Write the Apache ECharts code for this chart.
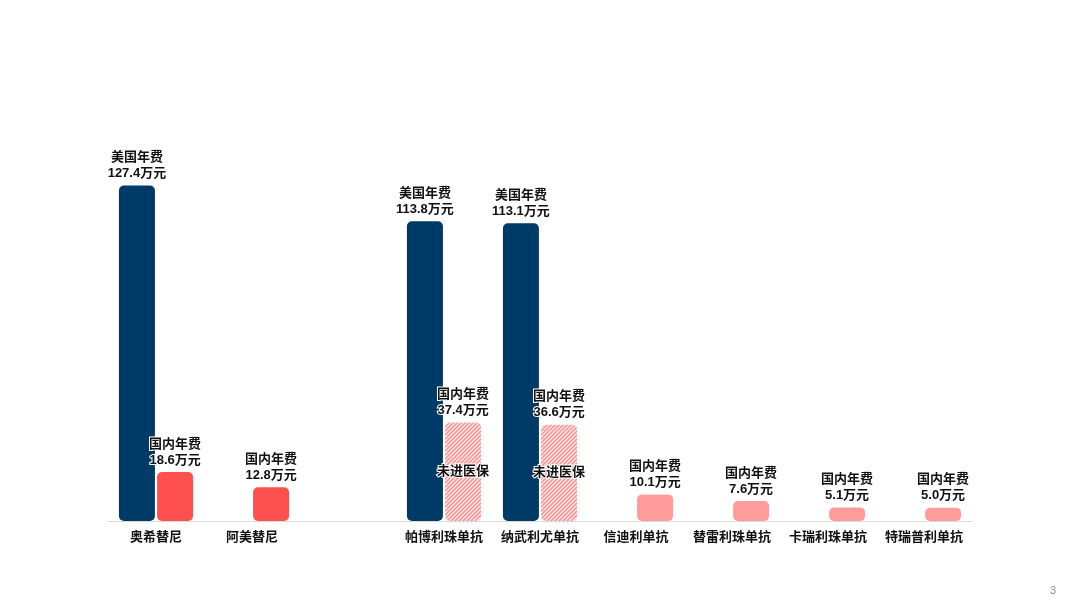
<!DOCTYPE html>
<html><head><meta charset="utf-8">
<script src="https://cdn.jsdelivr.net/npm/echarts@6/dist/echarts.min.js"></script>
<style>html,body{margin:0;padding:0;background:#fff;}#c{width:1080px;height:608px;}</style>
</head><body><div id="c"></div>
<script>
const categories = ['奥希替尼','阿美替尼','','帕博利珠单抗','纳武利尤单抗','信迪利单抗','替雷利珠单抗','卡瑞利珠单抗','特瑞普利单抗'];
const usFee = [127.4, null, null, 113.8, 113.1, null, null, null, null];
const cnFee = [18.6, 12.8, null, 37.4, 36.6, 10.1, 7.6, 5.1, 5.0];
// 0 = red (targeted), 1 = hatched (not in insurance), 2 = pink (PD-1 in insurance)
const cnKind = [0, 0, null, 1, 1, 2, 2, 2, 2];

const FONT = '"Liberation Sans", "Noto Sans CJK SC", sans-serif';
const NAVY = '#003A66', RED = '#FF5050', PINK = '#FF9B9B';

// hatch pattern
const pc = document.createElement('canvas');
pc.width = 4; pc.height = 4;
const g = pc.getContext('2d');
g.fillStyle = '#FFF4F4'; g.fillRect(0,0,4,4);
g.strokeStyle = '#FF9494'; g.lineWidth = 1.6;
g.beginPath();
g.moveTo(0,4); g.lineTo(4,0);
g.moveTo(-1,1); g.lineTo(1,-1);
g.moveTo(3,5); g.lineTo(5,3);
g.stroke();
const hatch = {image: pc, repeat: 'repeat'};

const labelBase = {fontFamily: FONT, fontWeight: 'bold', fontSize: 13, color: '#111', lineHeight: 16, textBorderColor: '#fff', textBorderWidth: 2};

const cnData = cnFee.map((v, i) => {
  if (v == null) return null;
  const k = cnKind[i];
  const item = {value: v, itemStyle: {color: k === 0 ? RED : (k === 1 ? hatch : PINK)}};
  if (k === 1) {
    item.label = Object.assign({}, labelBase, {show: true, position: 'inside', formatter: '未进医保'});
  }
  return item;
});
const cnTopData = cnFee.map((v, i) => cnKind[i] === 1 ? 0 : null);

const chart = echarts.init(document.getElementById('c'), null, {renderer: 'canvas'});
chart.setOption({
  animation: false,
  backgroundColor: '#fff',
  grid: {left: 108, right: 108, top: 105, bottom: 87},
  xAxis: {
    type: 'category', data: categories,
    axisLine: {lineStyle: {color: '#D9D9D9', width: 1}},
    axisTick: {show: false},
    axisLabel: {fontFamily: FONT, fontWeight: 'bold', fontSize: 13, color: '#111', margin: 10, interval: 0}
  },
  yAxis: {type: 'value', min: 0, max: 158, show: false, splitLine: {show: false}},
  series: [
    {
      name: '美国年费', type: 'bar', data: usFee, barWidth: 36, barGap: '6%',
      itemStyle: {color: NAVY, borderRadius: 5},
      label: Object.assign({}, labelBase, {show: true, position: 'top', distance: 4,
        formatter: p => '美国年费\n' + p.value.toFixed(1) + '万元'})
    },
    {
      name: '国内年费', type: 'bar', stack: 'cn', data: cnData, barWidth: 36, barGap: '6%',
      itemStyle: {borderRadius: 5},
      label: Object.assign({}, labelBase, {show: true, position: 'top', distance: 4,
        formatter: p => '国内年费\n' + p.value.toFixed(1) + '万元'})
    },
    {
      name: '国内年费标签', type: 'bar', stack: 'cn', data: cnTopData, barWidth: 36,
      itemStyle: {color: 'transparent'},
      label: Object.assign({}, labelBase, {show: true, position: 'top', distance: 4,
        formatter: p => { const i = p.dataIndex; return '国内年费\n' + cnFee[i].toFixed(1) + '万元'; }})
    }
  ],
  graphic: [{type: 'text', left: 1050, top: 585, style: {text: '3', fill: '#8A8A8A', font: '11px "Liberation Sans", sans-serif'}}]
});
</script></body></html>
